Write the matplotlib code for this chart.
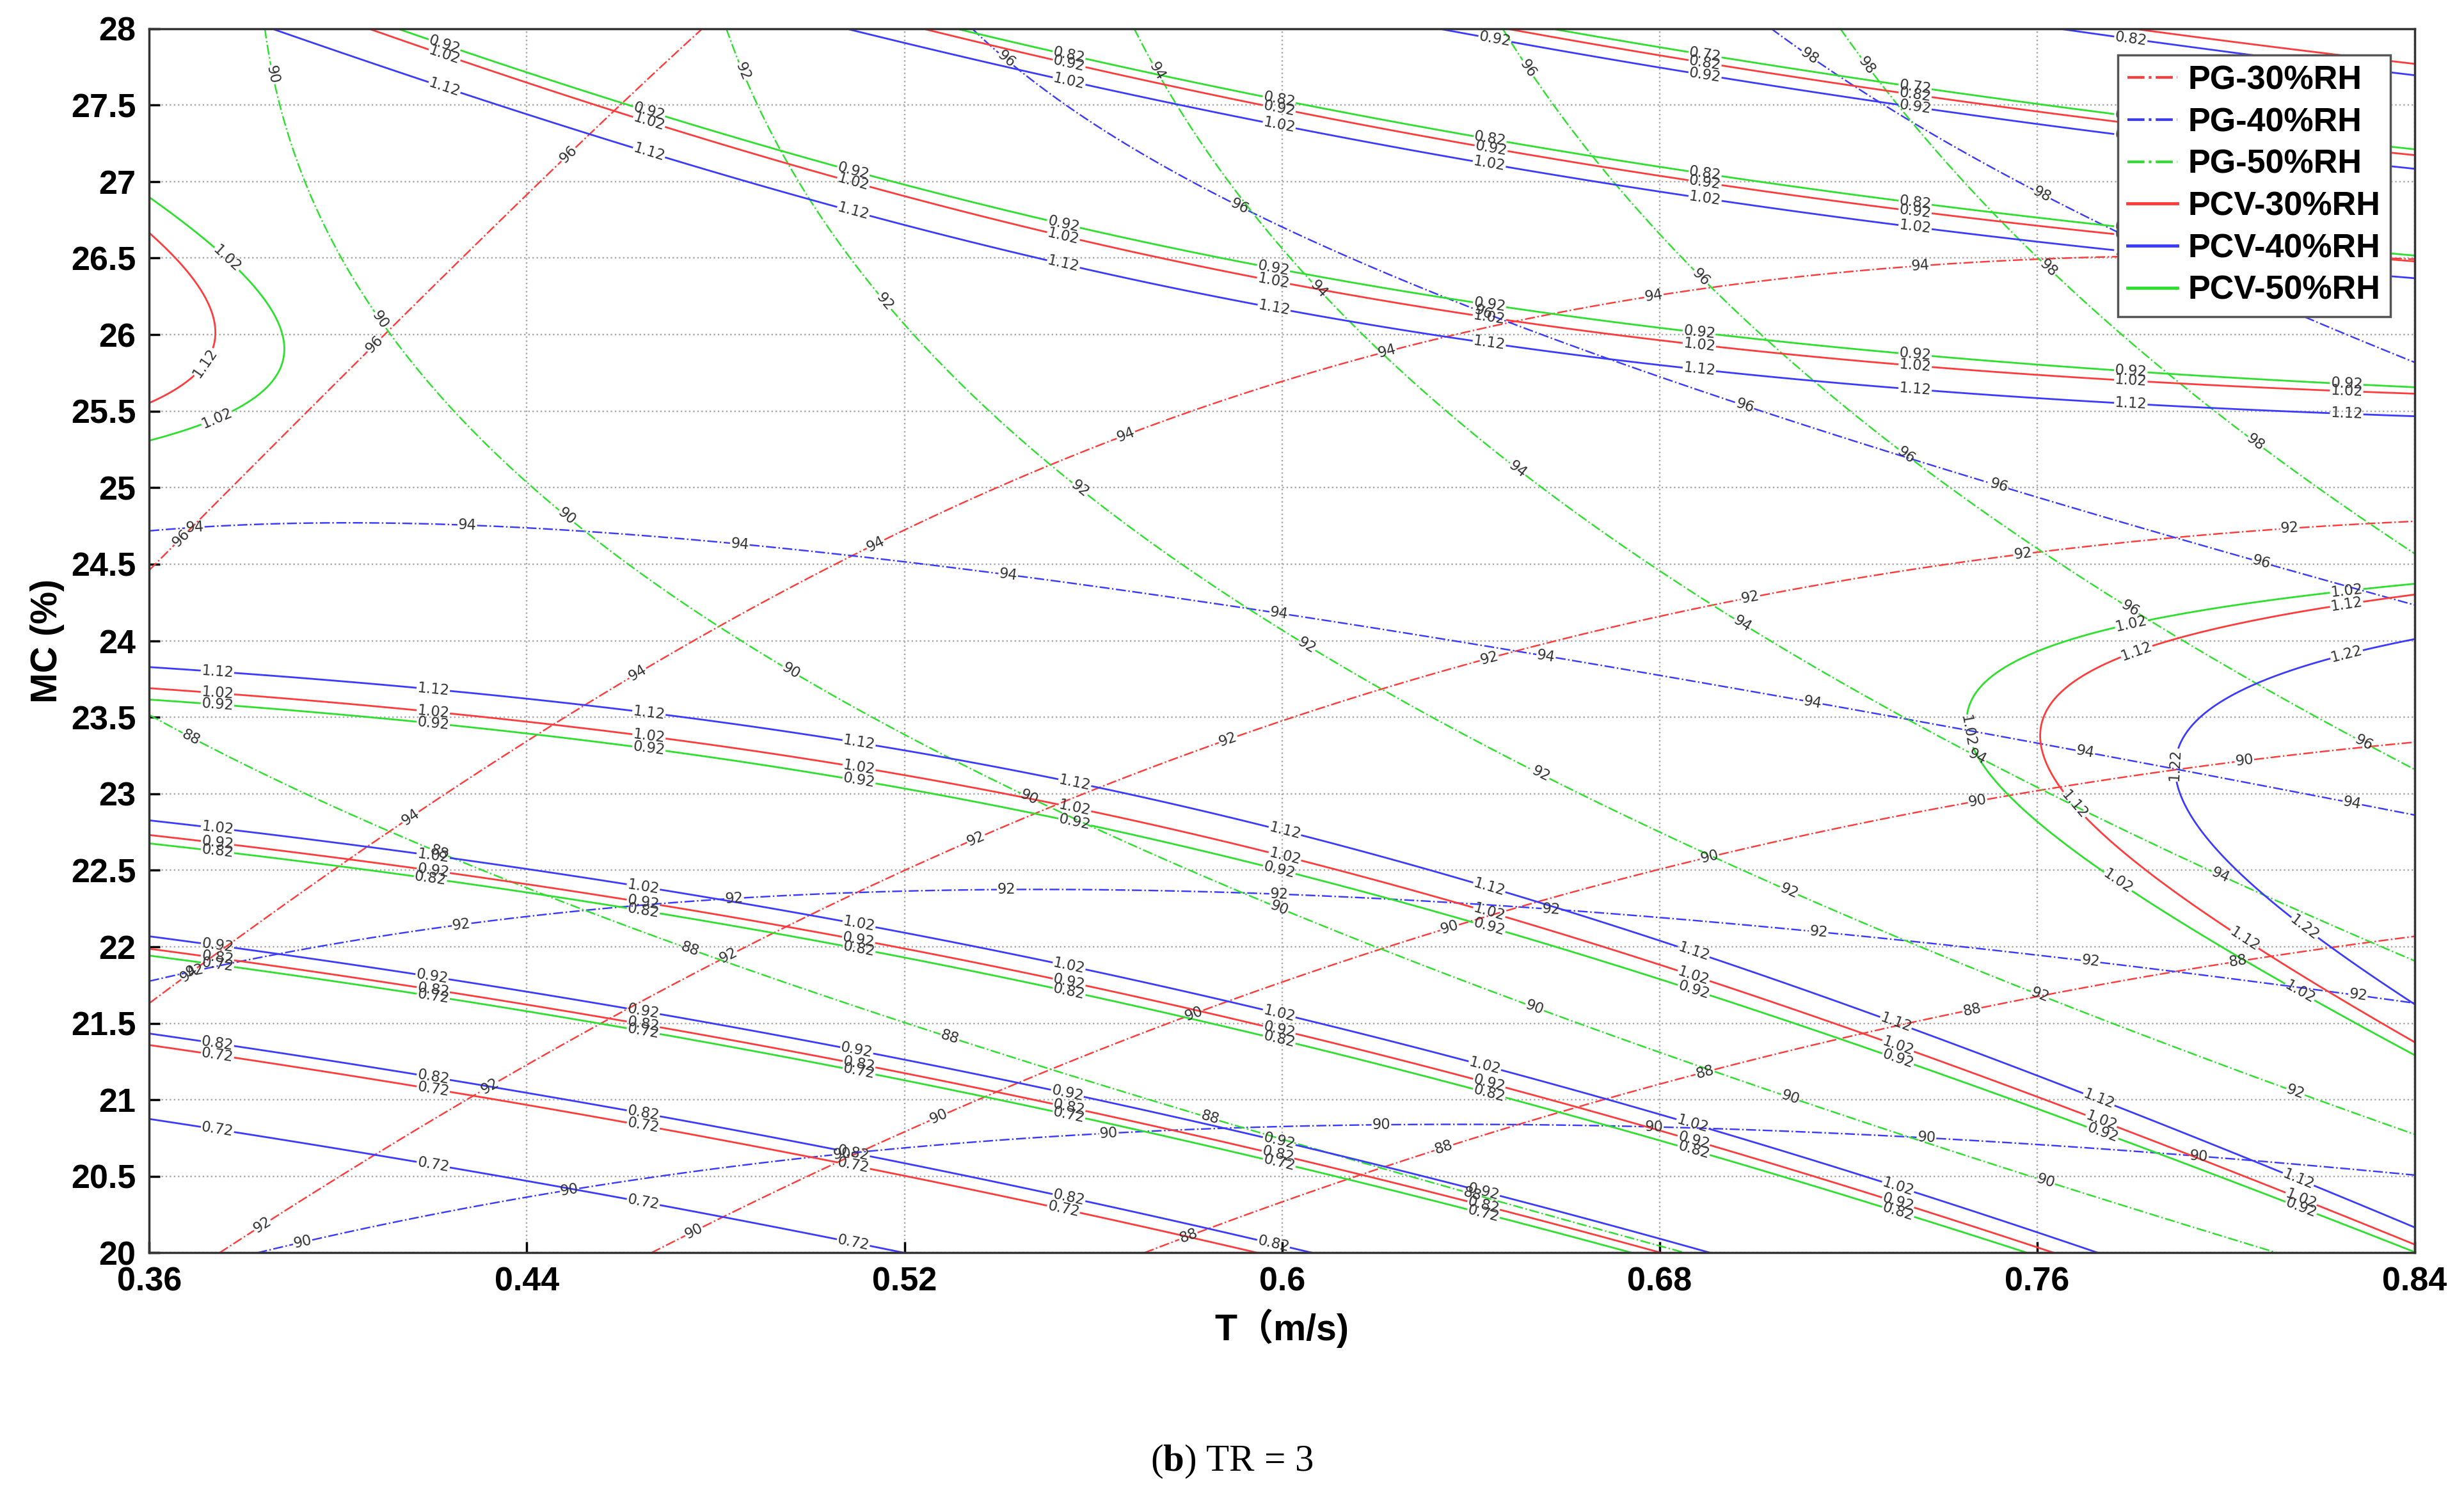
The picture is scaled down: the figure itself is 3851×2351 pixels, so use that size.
import numpy as np
import matplotlib
matplotlib.use("Agg")
import matplotlib.pyplot as plt
from matplotlib.lines import Line2D

plt.rcParams["mathtext.fontset"] = "custom"
plt.rcParams["mathtext.bf"] = "Liberation Serif:bold"
plt.rcParams["mathtext.rm"] = "Liberation Serif"

# ---------------------------------------------------------------------------
# Points read off the contour lines of the reference: (T, MC, level)
# ---------------------------------------------------------------------------
PCV30 = [
    # lower band
    (.367, 23.67, 1.02), (.414, 23.55, 1.02), (.46, 23.39, 1.02), (.506, 23.2, 1.02), (.552, 22.95, 1.02),
    (.597, 22.61, 1.02), (.641, 22.27, 1.02), (.686, 21.82, 1.02), (.73, 21.33, 1.02), (.774, 20.85, 1.02),
    (.818, 20.33, 1.02),
    (.368, 22.72, .92), (.414, 22.51, .92), (.461, 22.3, .92), (.506, 22.06, .92), (.552, 21.78, .92),
    (.598, 21.48, .92), (.643, 21.13, .92), (.687, 20.74, .92), (.731, 20.32, .92),
    (.369, 21.95, .82), (.415, 21.74, .82), (.461, 21.52, .82), (.506, 21.27, .82), (.552, 20.97, .82),
    (.598, 20.63, .82), (.643, 20.32, .82),
    (.37, 21.31, .72), (.416, 21.09, .72), (.462, 20.85, .72), (.507, 20.59, .72), (.553, 20.28, .72),
    # upper band
    (.422, 27.83, 1.02), (.466, 27.39, 1.02), (.51, 26.99, 1.02), (.555, 26.64, 1.02), (.601, 26.33, 1.02),
    (.647, 26.09, 1.02), (.693, 25.92, 1.02), (.74, 25.79, 1.02), (.786, 25.67, 1.02), (.833, 25.6, 1.02),
    (.555, 27.77, .92), (.6, 27.47, .92), (.646, 27.21, .92), (.692, 26.99, .92), (.738, 26.79, .92),
    (.692, 27.77, .82), (.737, 27.55, .82), (.782, 27.38, .82), (.787, 27.97, .72),
    # loops
    (.36, 26.67, 1.12), (.374, 26.0, 1.12), (.368, 25.7, 1.12), (.36, 25.55, 1.12),
    (.784, 23.95, 1.12), (.761, 23.39, 1.12), (.767, 22.95, 1.12), (.803, 22.08, 1.12), (.84, 21.4, 1.12),
    (.824, 24.25, 1.12), (.84, 24.35, 1.12),
]
PCV40 = [
    (.367, 23.81, 1.12), (.414, 23.7, 1.12), (.46, 23.56, 1.12), (.506, 23.38, 1.12), (.552, 23.12, 1.12),
    (.597, 22.79, 1.12), (.642, 22.4, 1.12), (.686, 21.97, 1.12), (.73, 21.49, 1.12), (.774, 21.0, 1.12),
    (.817, 20.47, 1.12),
    (.37, 22.79, 1.02), (.416, 22.61, 1.02), (.462, 22.4, 1.02), (.508, 22.17, 1.02), (.553, 21.88, 1.02),
    (.599, 21.57, 1.02), (.644, 21.22, 1.02), (.688, 20.82, 1.02), (.733, 20.4, 1.02),
    (.366, 22.04, .92), (.412, 21.84, .92), (.458, 21.62, .92), (.503, 21.36, .92), (.549, 21.07, .92),
    (.594, 20.76, .92), (.64, 20.42, .92),
    (.366, 21.4, .82), (.412, 21.19, .82), (.458, 20.96, .82), (.504, 20.68, .82), (.549, 20.4, .82),
    (.595, 20.08, .82),
    (.367, 20.84, .72), (.412, 20.62, .72), (.458, 20.37, .72), (.504, 20.11, .72),
    (.38, 28.0, 1.12), (.421, 27.69, 1.12), (.465, 27.24, 1.12), (.509, 26.82, 1.12), (.554, 26.45, 1.12),
    (.6, 26.14, 1.12), (.646, 25.93, 1.12), (.692, 25.75, 1.12), (.738, 25.63, 1.12), (.785, 25.54, 1.12),
    (.831, 25.48, 1.12),
    (.553, 27.68, 1.02), (.599, 27.38, 1.02), (.645, 27.1, 1.02), (.69, 26.88, 1.02), (.737, 26.69, 1.02),
    (.632, 28.0, .92), (.694, 27.68, .92), (.74, 27.46, .92),
    (.831, 23.96, 1.22), (.792, 23.47, 1.22), (.789, 23.18, 1.22), (.813, 22.22, 1.22), (.84, 21.67, 1.22),
    (.84, 24.05, 1.22),
]
PCV50 = [
    (.367, 23.6, .92), (.4135, 23.47, .92), (.46, 23.31, .92), (.506, 23.12, .92), (.551, 22.85, .92),
    (.597, 22.52, .92), (.642, 22.15, .92), (.686, 21.72, .92), (.73, 21.27, .92), (.774, 20.77, .92),
    (.818, 20.27, .92),
    (.368, 22.65, .82), (.414, 22.47, .82), (.461, 22.25, .82), (.506, 22.01, .82), (.552, 21.72, .82),
    (.597, 21.41, .82), (.643, 21.06, .82), (.687, 20.68, .82), (.731, 20.25, .82),
    (.369, 21.9, .72), (.415, 21.7, .72), (.461, 21.48, .72), (.506, 21.22, .72), (.552, 20.92, .72),
    (.597, 20.59, .72), (.643, 20.27, .72),
    (.422, 27.9, .92), (.466, 27.46, .92), (.511, 27.05, .92), (.556, 26.72, .92), (.602, 26.42, .92),
    (.648, 26.17, .92), (.694, 25.99, .92), (.74, 25.85, .92), (.833, 25.66, .92),
    (.555, 27.82, .82), (.601, 27.53, .82), (.647, 27.26, .82), (.693, 27.03, .82), (.739, 26.85, .82),
    (.692, 27.82, .72), (.738, 27.6, .72),
    (.36, 26.91, 1.02), (.381, 26.36, 1.02), (.389, 25.93, 1.02), (.367, 25.4, 1.02), (.36, 25.33, 1.02),
    (.768, 24.02, 1.02), (.747, 23.55, 1.02), (.753, 23.03, 1.02), (.776, 22.45, 1.02), (.815, 21.72, 1.02),
    (.841, 21.3, 1.02), (.84, 24.4, 1.02),
]
PG30 = [
    (.363, 24.55, 96), (.396, 25.55, 96), (.429, 26.6, 96), (.462, 27.57, 96), (.477, 28.0, 96),
    (.365, 21.78, 94), (.404, 22.58, 94), (.441, 23.39, 94), (.476, 24.0, 94), (.524, 24.79, 94),
    (.566, 25.33, 94), (.61, 25.79, 94), (.656, 26.12, 94), (.701, 26.34, 94), (.748, 26.47, 94),
    (.84, 26.5, 94),
    (.379, 20.08, 92), (.419, 20.84, 92), (.463, 21.6, 92), (.5, 22.22, 92), (.543, 22.8, 92),
    (.586, 23.33, 92), (.63, 23.77, 92), (.675, 24.14, 92), (.72, 24.4, 92), (.766, 24.6, 92),
    (.813, 24.72, 92), (.84, 24.79, 92),
    (.47, 20.06, 90), (.554, 21.23, 90), (.598, 21.75, 90), (.686, 22.57, 90), (.732, 22.86, 90),
    (.778, 23.1, 90), (.824, 23.28, 90),
    (.576, 20.07, 88), (.62, 20.54, 88), (.664, 20.97, 88), (.709, 21.32, 88), (.755, 21.65, 88),
    (.8, 21.88, 88), (.84, 22.08, 88),
]
PG40 = [
    (.539, 27.85, 96), (.578, 27.05, 96), (.62, 26.43, 96), (.663, 25.9, 96), (.707, 25.44, 96),
    (.751, 25.02, 96), (.796, 24.6, 96), (.838, 24.27, 96),
    (.708, 27.91, 98), (.747, 27.16, 98), (.83, 25.93, 98),
    (.364, 24.72, 94), (.41, 24.75, 94), (.439, 24.76, 94), (.457, 24.71, 94), (.503, 24.58, 94),
    (.549, 24.41, 94), (.595, 24.22, 94), (.641, 23.98, 94), (.687, 23.73, 94), (.733, 23.48, 94),
    (.84, 22.87, 94),
    (.36, 21.79, 92), (.41, 22.06, 92), (.5, 22.34, 92), (.548, 22.36, 92), (.595, 22.35, 92),
    (.687, 22.17, 92), (.735, 22.02, 92), (.78, 21.87, 92), (.826, 21.69, 92),
    (.389, 20.04, 90), (.435, 20.35, 90), (.481, 20.54, 90), (.527, 20.71, 90), (.573, 20.79, 90),
    (.62, 20.84, 90), (.666, 20.84, 90), (.713, 20.79, 90), (.76, 20.72, 90), (.806, 20.6, 90),
    (.84, 20.5, 90),
]
PG50 = [
    (.385, 27.89, 90), (.4, 26.53, 90), (.428, 25.4, 90), (.463, 24.46, 90), (.502, 23.69, 90),
    (.543, 23.01, 90), (.586, 22.44, 90), (.628, 21.9, 90), (.672, 21.4, 90), (.716, 20.92, 90),
    (.76, 20.49, 90), (.805, 20.05, 90),
    (.364, 23.45, 88), (.405, 22.82, 88), (.448, 22.3, 88), (.492, 21.8, 88), (.536, 21.35, 88),
    (.58, 20.92, 88), (.625, 20.51, 88), (.67, 20.14, 88),
    (.484, 27.87, 92), (.506, 26.61, 92), (.537, 25.54, 92), (.573, 24.63, 92), (.612, 23.85, 92),
    (.652, 23.16, 92), (.695, 22.55, 92), (.734, 22.01, 92), (.78, 21.45, 92), (.824, 20.95, 92),
    (.57, 27.9, 94), (.596, 26.7, 94), (.629, 25.66, 94), (.665, 24.78, 94), (.703, 23.99, 94),
    (.745, 23.29, 94), (.786, 22.65, 94), (.828, 22.08, 94),
    (.647, 28.0, 96), (.677, 26.74, 96), (.711, 25.75, 96), (.747, 24.88, 96), (.826, 23.38, 96),
    (.721, 27.87, 98), (.752, 26.78, 98), (.786, 25.78, 98), (.823, 24.94, 98), (.84, 24.55, 98),
]

PG_LEVELS = [88, 90, 92, 94, 96, 98]
PCV_LEVELS = [0.72, 0.82, 0.92, 1.02, 1.12, 1.22]

RED, BLUE, GREEN = "#ff3b3b", "#3b3bff", "#2ee02e"


def _terms(T, MC, deg):
    x = (np.asarray(T) - 0.6) / 0.24
    y = (np.asarray(MC) - 24.0) / 4.0
    return np.stack([x**i * y**j for i in range(deg + 1) for j in range(deg + 1 - i)], axis=-1)


def fit_surface(points, deg):
    pts = np.array(points, dtype=float)
    A = _terms(pts[:, 0], pts[:, 1], deg)
    coef, *_ = np.linalg.lstsq(A, pts[:, 2], rcond=None)
    return lambda T, MC: _terms(T, MC, deg) @ coef


def label_spots(cs, step=0.095, start=0.03):
    """Points spread along every contour path, MATLAB-like label density."""
    spots = []
    for segs in cs.allsegs:
        for seg in segs:
            if len(seg) < 2:
                continue
            u = (seg[:, 0] - 0.36) / 0.48
            v = (seg[:, 1] - 20.0) / 8.0 * (782 / 1442)
            d = np.concatenate([[0], np.cumsum(np.hypot(np.diff(u), np.diff(v)))])
            for s in np.arange(start, d[-1] - 0.015, step):
                k = np.searchsorted(d, s)
                T, MC = seg[k]
                if T > 0.78 and MC > 25.7:  # hidden behind the legend
                    continue
                spots.append((T, MC))
    return spots


def main():
    fig = plt.figure(figsize=(15.404, 9.404), dpi=250)
    ax = fig.add_axes([0.0606, 0.167, 0.9194, 0.814])
    ax.set_xlim(0.36, 0.84)
    ax.set_ylim(20, 28)

    t = np.linspace(0.36, 0.84, 400)
    mc = np.linspace(20, 28, 400)
    TT, MM = np.meshgrid(t, mc)

    label_kw = dict(inline=True, fontsize=6.5, colors="#333333", inline_spacing=1)

    for pts, col in [(PG30, RED), (PG40, BLUE), (PG50, GREEN)]:
        Z = fit_surface(pts, 3)(TT, MM)
        cs = ax.contour(TT, MM, Z, levels=PG_LEVELS, colors=col, linewidths=0.7,
                        linestyles="-.")
        ax.clabel(cs, fmt="%d", manual=label_spots(cs, step=0.12, start=0.02), **label_kw)

    for pts, col in [(PCV30, RED), (PCV40, BLUE), (PCV50, GREEN)]:
        Z = fit_surface(pts, 3)(TT, MM)
        cs = ax.contour(TT, MM, Z, levels=PCV_LEVELS, colors=col, linewidths=0.8,
                        linestyles="-")
        ax.clabel(cs, fmt="%.2f", manual=label_spots(cs), **label_kw)

    ax.set_xticks(np.arange(0.36, 0.841, 0.08))
    ax.set_xticklabels(["0.36", "0.44", "0.52", "0.6", "0.68", "0.76", "0.84"])
    ax.set_yticks(np.arange(20, 28.01, 0.5))
    ax.set_yticklabels(["20", "20.5", "21", "21.5", "22", "22.5", "23", "23.5", "24",
                        "24.5", "25", "25.5", "26", "26.5", "27", "27.5", "28"])
    ax.grid(True, color="#aaaaaa", linestyle=":", linewidth=0.7)
    ax.tick_params(direction="in", length=5, width=1, labelsize=15, pad=6)
    for lab in ax.get_xticklabels() + ax.get_yticklabels():
        lab.set_fontweight("bold")
        lab.set_fontfamily("Liberation Sans")
    for sp in ax.spines.values():
        sp.set_linewidth(1.0)
        sp.set_color("#333333")

    ax.set_xlabel("T（m/s)", fontsize=16.5, fontweight="bold",
                  fontfamily=["Liberation Sans", "Noto Sans CJK SC"], labelpad=5)
    ax.set_ylabel("MC (%)", fontsize=16.5, fontweight="bold", fontfamily="Liberation Sans",
                  labelpad=3)

    handles = [
        Line2D([], [], color=RED, linestyle="-.", linewidth=1.2),
        Line2D([], [], color=BLUE, linestyle="-.", linewidth=1.2),
        Line2D([], [], color=GREEN, linestyle="-.", linewidth=1.2),
        Line2D([], [], color=RED, linestyle="-", linewidth=1.4),
        Line2D([], [], color=BLUE, linestyle="-", linewidth=1.4),
        Line2D([], [], color=GREEN, linestyle="-", linewidth=1.4),
    ]
    names = ["PG-30%RH", "PG-40%RH", "PG-50%RH", "PCV-30%RH", "PCV-40%RH", "PCV-50%RH"]
    leg = ax.legend(handles, names, loc="upper right", bbox_to_anchor=(0.9965, 0.992),
                    handlelength=1.5, handletextpad=0.3, labelspacing=0.32,
                    borderpad=0.3, fancybox=False, framealpha=1, edgecolor="#555555",
                    prop={"family": "Liberation Sans", "weight": "bold", "size": 15})
    leg.get_frame().set_linewidth(1.0)

    fig.text(0.5, 0.028, r"($\mathbf{b}$) TR = 3", ha="center", va="center", fontsize=17,
             fontfamily="Liberation Serif")

    fig.savefig("out.png", dpi=250)


if __name__ == "__main__":
    main()
